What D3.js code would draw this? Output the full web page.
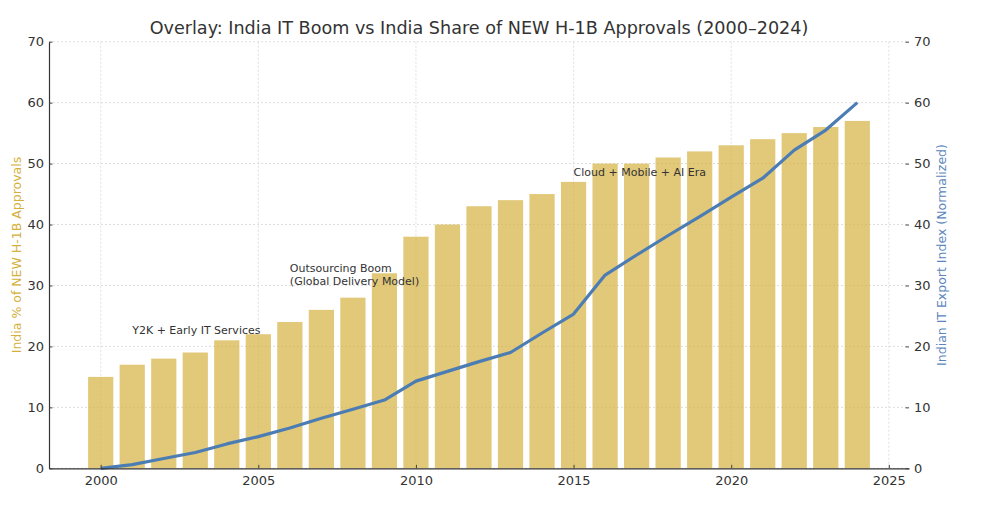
<!DOCTYPE html>
<html>
<head>
<meta charset="utf-8">
<script src="https://cdn.jsdelivr.net/npm/d3@7"></script>
<style>
  body { margin: 0; background: #fff; }
  text { font-family: "DejaVu Sans", sans-serif; }
</style>
</head>
<body>
<svg id="chart" width="991" height="505"></svg>
<script>
// data
let years = d3.range(2000, 2025);
let indiaShare = [15, 17, 18, 19, 21, 22, 24, 26, 28, 32, 38, 40, 43, 44, 45, 47, 50, 50, 51, 52, 53, 54, 55, 56, 57];
let exportIndex = [0, 0.6, 1.6, 2.6, 4.0, 5.2, 6.6, 8.2, 9.7, 11.2, 14.3, 15.9, 17.5, 19.0, 22.2, 25.3, 31.7, 35.0, 38.2, 41.3, 44.5, 47.6, 52.2, 55.5, 60.0];
let xTicks = [2000, 2005, 2010, 2015, 2020, 2025];
let yTicks = [0, 10, 20, 30, 40, 50, 60, 70];
let eras = [
    {"year": 2001, "value": 22, "lines": ["Y2K + Early IT Services"]},
    {"year": 2006, "value": 30, "lines": ["Outsourcing Boom", "(Global Delivery Model)"]},
    {"year": 2015, "value": 48, "lines": ["Cloud + Mobile + AI Era"]}
];

let svg = d3.select("#chart");
let plotLeft = 49, plotRight = 909, plotTop = 41.7, plotBottom = 468.3;

let x = d3.scaleLinear().domain([1998.36, 2025.64]).range([plotLeft, plotRight]);
let yLeft = d3.scaleLinear().domain([0, 70]).range([plotBottom, plotTop]);
let yRight = d3.scaleLinear().domain([0, 70]).range([plotBottom, plotTop]);

// grid
let grid = svg.append("g").attr("class", "grid");
grid.selectAll(".vgrid").data(xTicks).enter().append("line")
    .attr("x1", d => x(d)).attr("x2", d => x(d))
    .attr("y1", plotTop).attr("y2", plotBottom)
    .attr("stroke", "#d6d6d6").attr("stroke-width", 0.8).attr("stroke-dasharray", "2,2");
grid.selectAll(".hgrid").data(yTicks).enter().append("line")
    .attr("x1", plotLeft).attr("x2", plotRight)
    .attr("y1", d => yLeft(d)).attr("y2", d => yLeft(d))
    .attr("stroke", "#d6d6d6").attr("stroke-width", 0.8).attr("stroke-dasharray", "2,2");

// bars
let barW = x(2000.4) - x(1999.6);
svg.append("g").selectAll("rect").data(years).enter().append("rect")
    .attr("x", d => x(d - 0.4))
    .attr("width", barW)
    .attr("y", (d, i) => yLeft(indiaShare[i]))
    .attr("height", (d, i) => plotBottom - yLeft(indiaShare[i]))
    .attr("fill", "#d6b040").attr("fill-opacity", 0.7);

// era labels
let notes = svg.append("g");
eras.forEach(e => {
    let t = notes.append("text")
        .attr("x", x(e.year))
        .attr("y", yLeft(e.value) - (e.lines.length - 1) * 13.5)
        .attr("font-size", 11).attr("fill", "#333");
    e.lines.forEach((s, i) => {
        t.append("tspan").attr("x", x(e.year)).attr("dy", i == 0 ? 0 : 13.5).text(s);
    });
});

// export index line
let line = d3.line()
    .x((d, i) => x(years[i]))
    .y(d => yRight(d));
svg.append("path").datum(exportIndex)
    .attr("d", line)
    .attr("fill", "none").attr("stroke", "#4b7db4").attr("stroke-width", 3.2)
    .attr("stroke-linejoin", "round");

// axes
let xAxis = svg.append("g").attr("transform", `translate(0,${plotBottom})`)
    .call(d3.axisBottom(x).tickValues(xTicks).tickFormat(d3.format("d")).tickSizeInner(-3.5).tickSizeOuter(0).tickPadding(7));
let lAxis = svg.append("g").attr("transform", `translate(${plotLeft},0)`)
    .call(d3.axisLeft(yLeft).tickValues(yTicks).tickSizeInner(-3.5).tickSizeOuter(0).tickPadding(5));
let rAxis = svg.append("g").attr("transform", `translate(${plotRight},0)`)
    .call(d3.axisRight(yRight).tickValues(yTicks).tickSizeInner(-3.5).tickSizeOuter(0).tickPadding(7));

[xAxis, lAxis, rAxis].forEach(a => {
    a.selectAll("text").attr("font-size", 13).attr("fill", "#333").style("font-family", "DejaVu Sans");
    a.selectAll(".tick line").attr("stroke", "#444");
    a.select(".domain").attr("stroke", "#333").attr("stroke-width", 1.2);
});
rAxis.select(".domain").remove();
rAxis.selectAll("text").attr("x", 5);

// axis titles
svg.append("text")
    .attr("transform", `translate(21,${(plotTop + plotBottom) / 2}) rotate(-90)`)
    .attr("text-anchor", "middle").attr("font-size", 12.5).attr("fill", "#d4b03c")
    .text("India % of NEW H-1B Approvals");
svg.append("text")
    .attr("transform", `translate(946,${(plotTop + plotBottom) / 2}) rotate(-90)`)
    .attr("text-anchor", "middle").attr("font-size", 12.5).attr("fill", "#5a86bd")
    .text("Indian IT Export Index (Normalized)");

// title
svg.append("text")
    .attr("x", (plotLeft + plotRight) / 2).attr("y", 34)
    .attr("text-anchor", "middle").attr("font-size", 17.6).attr("fill", "#333")
    .text("Overlay: India IT Boom vs India Share of NEW H-1B Approvals (2000–2024)");
</script>
</body>
</html>
